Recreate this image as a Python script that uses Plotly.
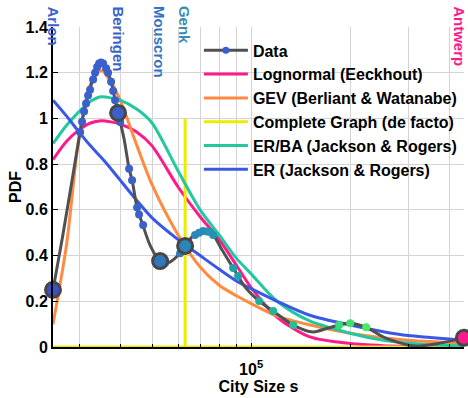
import numpy as np
import plotly.graph_objects as go

# ---------------- data ----------------
city_names = ["Arlon", "Beringen", "Mouscron", "Genk", "Antwerp"]
city_sizes = [25000, 39420, 52890, 63010, 443000]
city_pdf = [0.25, 1.024, 0.376, 0.442, 0.04]

# smoothed empirical density (gray curve)
data_s = [25000, 26640, 28570, 30220, 31070, 31960, 33100, 34040, 35000, 36250,
          37540, 38610, 39420, 41110, 42580, 43480, 45030, 46960, 49320, 52890,
          56730, 60840, 63010, 67570, 72470, 76650, 81630, 88150, 95890, 105750,
          116660, 134180, 154300, 171400, 185100, 200000, 223700, 255500, 315100,
          375400, 443000]
data_pdf = [0.25, 0.47, 0.73, 0.94, 1.03, 1.10, 1.175, 1.225, 1.245, 1.22,
            1.16, 1.08, 1.024, 0.91, 0.78, 0.73, 0.61, 0.53, 0.445, 0.376,
            0.372, 0.411, 0.442, 0.495, 0.505, 0.49, 0.424, 0.346, 0.262, 0.201,
            0.157, 0.096, 0.066, 0.083, 0.096, 0.104, 0.086, 0.04, 0.004,
            0.017, 0.04]

# individual cities (small dots)
sample_s = [30220, 30640, 31070, 31510, 31960, 32400, 33100, 33560, 34040, 34520,
            35000, 35500, 36250, 36760, 37540, 38070, 38610, 40000, 42580, 43480,
            45030, 45660, 46960, 54780, 60840, 67570, 69500, 71460, 73500, 75060,
            76650, 88150, 91310, 105750, 116660, 134180, 185100, 200000, 223700]
sample_pdf = [0.94, 0.985, 1.03, 1.065, 1.10, 1.125, 1.17, 1.20, 1.225, 1.24,
              1.245, 1.24, 1.22, 1.20, 1.16, 1.12, 1.08, 0.984, 0.78, 0.73,
              0.61, 0.58, 0.534, 0.367, 0.41, 0.49, 0.50, 0.507, 0.505, 0.503,
              0.49, 0.346, 0.311, 0.201, 0.157, 0.096, 0.096, 0.104, 0.086]

# fitted models, sampled on a common grid
fit_s = [25000, 27500, 30000, 32500, 35000, 37500, 40000, 45000, 50000, 60000,
         70000, 80000, 90000, 100000, 120000, 150000, 200000, 250000, 300000,
         350000, 400000, 443000]
lognormal_pdf = [0.82, 0.90, 0.95, 0.98, 0.99, 0.985, 0.975, 0.94, 0.88, 0.70,
                 0.57, 0.47, 0.36, 0.26, 0.13, 0.045, 0.015, 0.006, 0.003,
                 0.002, 0.001, 0.001]
gev_pdf = [0.10, 0.45, 0.92, 1.15, 1.21, 1.16, 1.08, 0.88, 0.71, 0.49,
           0.35, 0.27, 0.225, 0.19, 0.135, 0.097, 0.06, 0.04, 0.03,
           0.024, 0.02, 0.017]
erba_pdf = [0.89, 0.97, 1.03, 1.075, 1.095, 1.09, 1.08, 1.04, 0.98, 0.77,
            0.60, 0.49, 0.39, 0.32, 0.20, 0.115, 0.06, 0.03, 0.017,
            0.01, 0.007, 0.005]
er_pdf = [1.08, 1.01, 0.94, 0.88, 0.83, 0.78, 0.73, 0.64, 0.565, 0.47,
          0.40, 0.34, 0.29, 0.255, 0.20, 0.14, 0.096, 0.068, 0.05,
          0.042, 0.035, 0.03]
complete_s = [25000, 63010, 63010, 63010, 443000]
complete_pdf = [0, 0, 1.0, 0, 0]

x_major_ticks = [100000]
x_major_text = ["10<sup>5</sup>"]
x_minor_ticks = [30000, 40000, 50000, 60000, 70000, 80000, 90000, 200000, 300000, 400000]

# ---------------- styles ----------------
GRAY = "#505050"
C_LOGN = "#ff1a8c"
C_GEV = "#ff8a40"
C_COMP = "#eeea00"
C_ERBA = "#22c8a0"
C_ER = "#3a58e6"
big_colors = ["#3d50c8", "#3a5fcd", "#2f78bd", "#2d84b8", "#ff1a8c"]
label_colors = ["#3a5fcd", "#3a62c8", "#3575c0", "#3a8cb5", "#ff1a8c"]
label_shift = [0, 0, 0, 0, -4]

fig = go.Figure()

# legend-only "Data" entry
fig.add_trace(go.Scatter(x=[None], y=[None], mode="lines+markers", name="Data",
                         line=dict(color=GRAY, width=3),
                         marker=dict(color="#3a5fcd", size=7)))

for name, ys, col in [("Lognormal (Eeckhout)", lognormal_pdf, C_LOGN),
                      ("GEV (Berliant & Watanabe)", gev_pdf, C_GEV)]:
    fig.add_trace(go.Scatter(x=fit_s, y=ys, mode="lines", name=name,
                             line=dict(color=col, width=3, shape="spline", smoothing=0.8)))
fig.add_trace(go.Scatter(x=complete_s, y=complete_pdf, mode="lines",
                         name="Complete Graph (de facto)", cliponaxis=False,
                         line=dict(color=C_COMP, width=3)))
for name, ys, col in [("ER/BA (Jackson & Rogers)", erba_pdf, C_ERBA),
                      ("ER (Jackson & Rogers)", er_pdf, C_ER)]:
    fig.add_trace(go.Scatter(x=fit_s, y=ys, mode="lines", name=name,
                             line=dict(color=col, width=3, shape="spline", smoothing=0.8)))

# data curve
fig.add_trace(go.Scatter(x=data_s, y=data_pdf, mode="lines", showlegend=False,
                         line=dict(color=GRAY, width=3, shape="spline", smoothing=0.8)))
fig.add_trace(go.Scatter(x=sample_s, y=sample_pdf, mode="markers", showlegend=False,
                         marker=dict(size=8, color=np.log10(sample_s), cmin=4.45, cmax=5.35,
                                     colorscale=[[0, "#3a5fcd"], [0.25, "#3a62c8"],
                                                 [0.4, "#2f80bf"], [0.55, "#1fa0a8"],
                                                 [0.7, "#22b896"], [0.85, "#30d080"],
                                                 [1, "#48ec60"]])))
fig.add_trace(go.Scatter(x=city_sizes, y=city_pdf, mode="markers", showlegend=False,
                         cliponaxis=False,
                         marker=dict(size=15, color=big_colors,
                                     line=dict(color="#474747", width=3))))

for name, s, col, dx in zip(city_names, city_sizes, label_colors, label_shift):
    fig.add_annotation(x=np.log10(s), y=(347 - 4) / 320, xref="x", yref="paper",
                       text=name, textangle=90, showarrow=False, xshift=dx,
                       xanchor="center", yanchor="top",
                       font=dict(size=15, color=col, family="Liberation Sans", weight="bold"))

fig.update_layout(
    width=468, height=398,
    margin=dict(l=53, r=4, t=27, b=51),
    paper_bgcolor="white", plot_bgcolor="white",
    font=dict(family="Liberation Sans", size=16, color="black", weight="bold"),
    legend=dict(x=0.355, y=0.98, xanchor="left", yanchor="top",
                bgcolor="rgba(0,0,0,0)", font=dict(size=16), itemwidth=44,
                tracegroupgap=0),
    xaxis=dict(type="log", range=[np.log10(25000), np.log10(443500)],
               tickvals=x_major_ticks, ticktext=x_major_text,
               showgrid=True, gridcolor="#d4d4d4", gridwidth=1,
               ticks="inside", ticklen=4, tickcolor="black",
               minor=dict(tickvals=x_minor_ticks, showgrid=True, gridcolor="#d4d4d4",
                          gridwidth=1, ticks="inside", ticklen=3, tickcolor="black"),
               ticklabelstandoff=7,
               showline=True, linecolor="black", linewidth=2,
               zeroline=False,
               title=dict(text="City Size s", font=dict(size=16), standoff=0)),
    yaxis=dict(range=[0, 1.4], dtick=0.2, tick0=0,
               showgrid=True, gridcolor="#d4d4d4", gridwidth=1,
               ticks="inside", ticklen=5, tickcolor="black",
               showline=True, linecolor="black", linewidth=2,
               zeroline=False,
               title=dict(text="PDF", font=dict(size=16), standoff=0)),
)

fig.write_html("out.html")
